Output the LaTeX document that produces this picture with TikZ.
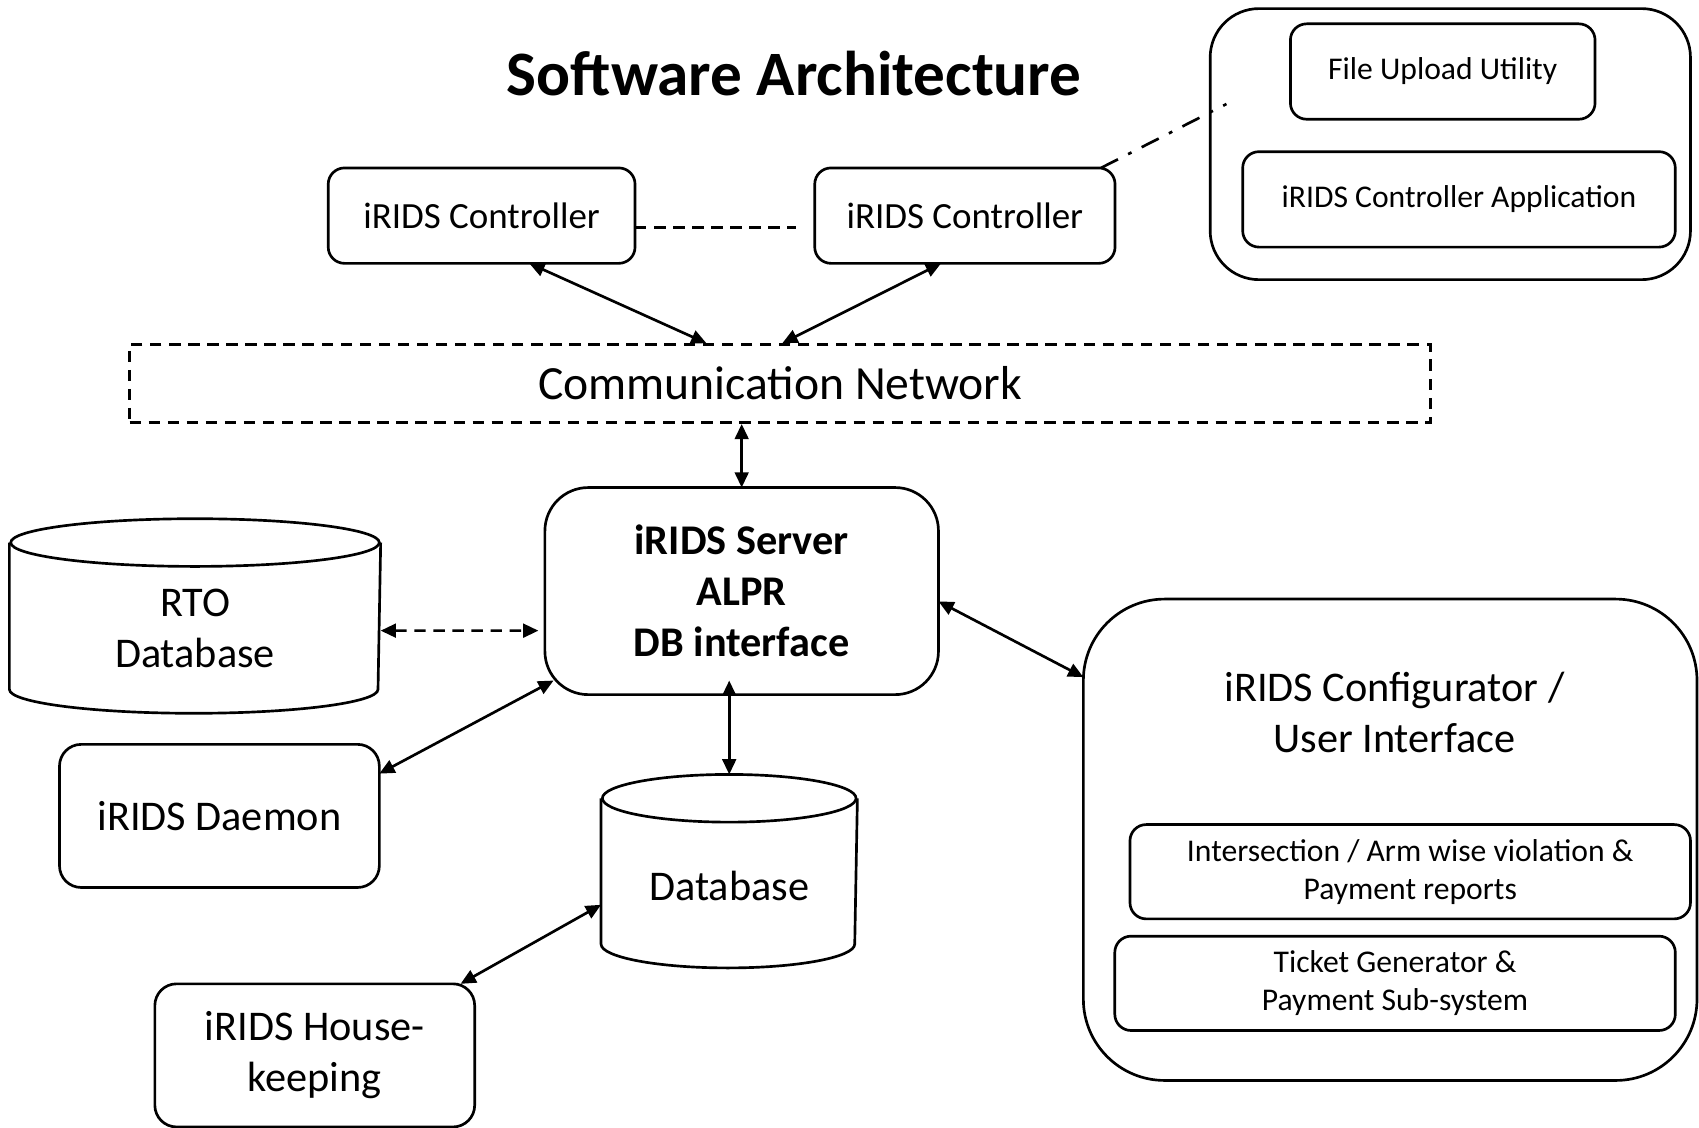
\documentclass[tikz,border=0pt]{standalone}
\usepackage{fontspec}
\setmainfont{Carlito}
\usetikzlibrary{arrows.meta}

\begin{document}
\begin{tikzpicture}[x=0.01cm,y=0.01cm,line width=0.7pt,
		box/.style={rectangle,draw,rounded corners=#1,inner sep=0pt,outer sep=0pt,align=center},
		box/.default=0.15cm,
		link/.style={{Triangle[length=4pt,width=3.6pt]}-{Triangle[length=4pt,width=3.6pt]}},
		small/.style={font=\fontsize{8.3}{10}\selectfont},
		mid/.style={font=\fontsize{11.1}{13.4}\selectfont}]

		\useasboundingbox (0,0) rectangle (1568,-1041);

		\node[font=\fontsize{16.6}{20}\selectfont\bfseries] (title) at (733,-68) {Software Architecture};

		% controllers and network
		\node[box,minimum width=2.83cm,minimum height=0.88cm,font=\fontsize{9.7}{12}\selectfont] (ctla) at (444.5,-199) {iRIDS Controller};
		\node[box,minimum width=2.77cm,minimum height=0.88cm,font=\fontsize{9.7}{12}\selectfont] (ctlb) at (890.5,-199) {iRIDS Controller};
		\node[rectangle,draw,dash pattern=on 3pt off 2pt,minimum width=12cm,minimum height=0.72cm,inner sep=0pt,font=\fontsize{12.5}{15}\selectfont] (net) at (720,-354) {Communication Network};

		% controller software
		\node[box=0.45cm,minimum width=4.43cm,minimum height=2.50cm] (app) at (1338.5,-133) {};
		\node[box,small,minimum width=2.81cm,minimum height=0.88cm] (upload) at (1331.5,-66) {File Upload Utility};
		\node[box,small,minimum width=3.99cm,minimum height=0.88cm] (ctlapp) at (1346.5,-184) {iRIDS Controller Application};

		% server and stores
		\node[box=0.4cm,font=\fontsize{11.1}{13.4}\selectfont\bfseries,minimum width=3.63cm,minimum height=1.91cm] (srv) at (684.5,-545.5) {iRIDS Server\\ALPR\\DB interface};
		\node[mid,align=center,inner sep=0pt,minimum width=3.40cm,minimum height=1.77cm] (rto) at (180,-580) {RTO\\Database};
		\node[mid,inner sep=0pt,minimum width=2.34cm,minimum height=1.76cm] (db) at (673,-818) {Database};
		\node[box=0.2cm,mid,minimum width=2.95cm,minimum height=1.32cm] (dmn) at (202.5,-753) {iRIDS Daemon};
		\node[box=0.2cm,mid,minimum width=2.95cm,minimum height=1.32cm] (hk) at (290.5,-974) {iRIDS House-\\keeping};

		\draw ([yshift=-0.105cm]rto.north west) -- ([yshift=0.335cm]rto.south west)
			arc[start angle=180,end angle=360,x radius=1.70cm,y radius=0.22cm] -- ([yshift=-0.105cm]rto.north east);
		\draw ([yshift=-0.105cm]rto.north) ellipse [x radius=1.70cm,y radius=0.22cm];
		\draw ([yshift=-0.08cm]db.north west) -- ([yshift=0.36cm]db.south west)
			arc[start angle=180,end angle=360,x radius=1.17cm,y radius=0.22cm] -- ([yshift=-0.08cm]db.north east);
		\draw ([yshift=-0.08cm]db.north) ellipse [x radius=1.17cm,y radius=0.22cm];

		% configurator
		\node[box=0.75cm,minimum width=5.66cm,minimum height=4.44cm] (cfg) at (1283,-775) {};
		\node[mid,align=center] (cfgtxt) at (1287,-657.5) {iRIDS Configurator /\\User Interface};
		\node[box,small,minimum width=5.17cm,minimum height=0.87cm] (rep) at (1301.5,-804.5) {Intersection / Arm wise violation \&\\Payment reports};
		\node[box,small,minimum width=5.17cm,minimum height=0.87cm] (tkt) at (1287.5,-907.5) {Ticket Generator \&\\Payment Sub-system};

		% links
		\draw[dash pattern=on 3pt off 2pt] ([yshift=-0.11cm]ctla.east) -- ([xshift=-0.17cm,yshift=-0.11cm]ctlb.west);
		\draw[dash pattern=on 5pt off 3pt on 1pt off 3pt] ([xshift=-0.13cm]ctlb.north east) -- ([xshift=0.15cm,yshift=0.37cm]app.west);
		\path[link] ([xshift=0.44cm]ctla.south) edge ([xshift=-0.68cm]net.north);
		\path[link] ([xshift=-0.22cm]ctlb.south) edge ([xshift=0.02cm]net.north);
		\path[link] (srv.north) edge (srv.north |- net.south);
		\path[link,dash pattern=on 3pt off 2pt] ([yshift=-0.02cm]rto.east) edge ([xshift=-0.06cm,yshift=-0.365cm]srv.west);
		\path[link] ([yshift=-0.27cm]dmn.north east) edge ([shift={(0.08cm,0.13cm)}]srv.south west);
		\path[link] ([yshift=0.13cm]srv.south -| db.north) edge ([yshift=0.14cm]db.north);
		\path[link] ([xshift=-0.13cm]hk.north east) edge ([yshift=-0.17cm]db.west);
		\path[link] ([yshift=-0.095cm]srv.east) edge ([yshift=-0.72cm]cfg.north west);
	\end{tikzpicture}
\end{document}
